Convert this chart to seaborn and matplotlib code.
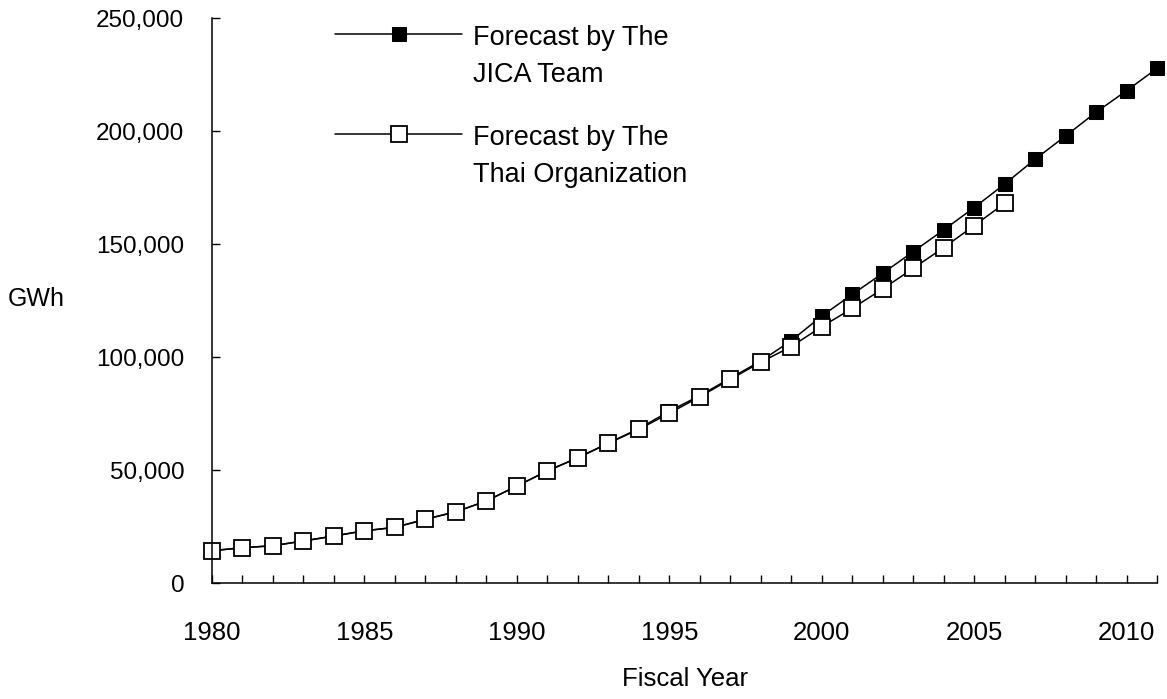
import matplotlib
matplotlib.use("Agg")
import matplotlib.pyplot as plt
from matplotlib.ticker import FuncFormatter, MultipleLocator
import seaborn as sns

# Energy demand forecasts (GWh)
years_jica = list(range(1980, 2012))
jica_gwh = [14300, 15600, 16500, 18600, 20800, 23100, 24600, 28200, 31500,
            36300, 42900, 49600, 55400, 61900, 68300, 76000, 82900, 90600,
            98200, 107200, 118100, 127700, 137000, 146600, 156200, 166100,
            176500, 187500, 197800, 208300, 217800, 227700]

years_thai = list(range(1980, 2007))
thai_gwh = [14300, 15600, 16500, 18600, 20800, 23100, 24600, 28200, 31500,
            36300, 42900, 49600, 55400, 61800, 68000, 75100, 82400, 90100,
            97700, 104600, 113400, 121500, 130100, 139200, 148400, 158100,
            168000]

label_jica = "Forecast by The\nJICA Team"
label_thai = "Forecast by The\nThai Organization"

sns.set_style("white")
plt.rcParams["font.family"] = ["Liberation Sans", "DejaVu Sans"]
plt.rcParams["text.color"] = "black"
plt.rcParams["axes.labelcolor"] = "black"
plt.rcParams["xtick.color"] = "black"
plt.rcParams["ytick.color"] = "black"

W, H = 1167, 699
fig = plt.figure(figsize=(W / 100, H / 100), dpi=100)
ax = fig.add_axes([212 / W, 1 - 583 / H, (1157 - 212) / W, (583 - 18) / H])

sns.lineplot(x=years_jica, y=jica_gwh, ax=ax, color="black", linewidth=1.1,
             marker="s", markersize=9.5, markerfacecolor="black",
             markeredgecolor="black", clip_on=False, label=label_jica)
sns.lineplot(x=years_thai, y=thai_gwh, ax=ax, color="black", linewidth=1.1,
             marker="s", markersize=11, markerfacecolor="white",
             markeredgecolor="black", markeredgewidth=1.3, clip_on=False,
             label=label_thai)

ax.set_xlim(1980, 2011)
ax.set_ylim(0, 250000)
ax.xaxis.set_major_locator(MultipleLocator(5))
ax.xaxis.set_minor_locator(MultipleLocator(1))
ax.yaxis.set_major_locator(MultipleLocator(50000))
ax.yaxis.set_major_formatter(FuncFormatter(lambda v, _: f"{int(v):,}"))

for side in ("top", "right"):
    ax.spines[side].set_visible(False)
for side in ("left", "bottom"):
    ax.spines[side].set_linewidth(1.1)
    ax.spines[side].set_color("black")

ax.tick_params(axis="x", which="both", bottom=True, direction="in", length=6,
               width=1, color="black", pad=27, labelsize=18.5)
ax.tick_params(axis="y", which="major", left=True, direction="in", length=6,
               width=1, color="black", pad=20, labelsize=17.5)
ax.tick_params(axis="y", which="minor", left=False)

ax.set_xlabel("Fiscal Year", fontsize=18.5, labelpad=16)
ax.set_ylabel("GWh", fontsize=18, rotation=0, ha="center", va="center")
ax.yaxis.set_label_coords(-0.186, 0.503)

leg = ax.legend(loc="upper left", bbox_to_anchor=(335 / W, 1 - 25 / H),
                bbox_transform=fig.transFigure, frameon=False, fontsize=19.5,
                borderpad=0, borderaxespad=0, handlelength=4.7,
                handletextpad=0.4, labelspacing=1.35)
for t in leg.get_texts():
    t.set_linespacing(1.55)
for box in leg._legend_handle_box.get_children():
    for item in box.get_children():
        item.align = "top"

fig.savefig("out.png", dpi=100, facecolor="white")
